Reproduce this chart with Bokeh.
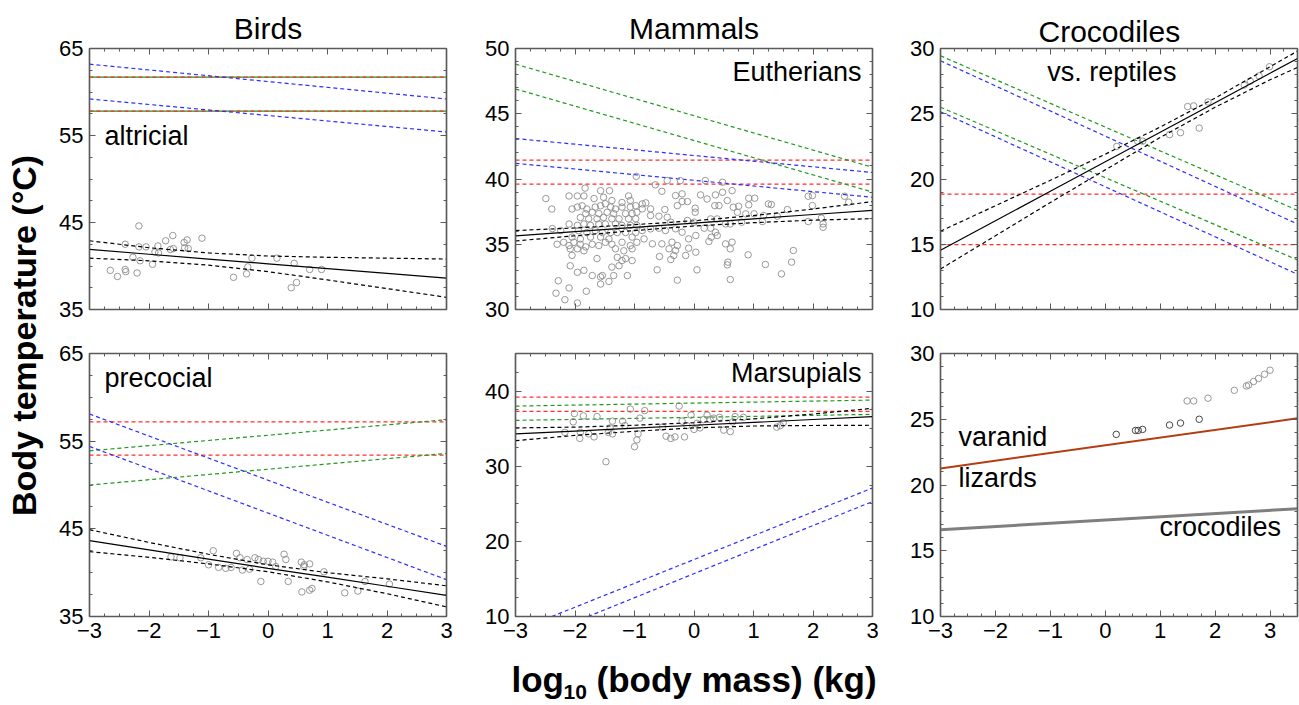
import numpy as np
from bokeh.plotting import figure
from bokeh.layouts import row, column
from bokeh.models import FixedTicker, LinearAxis, CustomJSTickFormatter, Label, Range1d
from bokeh.embed import file_html
from bokeh.resources import INLINE

FONT = "Liberation Sans"
BLUE = "#2e2eff"
GREEN = "#1f9a1f"
RED = "#ff2e2e"
PTS = "#8c8c8c"
FRAME = "#5a5a5a"

# ---------------- data ----------------
XS = [-3, -2, -1, 0, 1, 2, 3]
XE = [-3, 3]
XC = [-3, -2, -1, 0, 1, 2, 3, 3.5]
XCE = [-3, 3.5]

COLUMN_TITLES = ["Birds", "Mammals", "Crocodiles"]

# Birds, altricial
alt_pts = [(-2.65, 39.5), (-2.53, 38.8), (-2.40, 42.5), (-2.40, 39.6), (-2.39, 39.35), (-2.27, 41.0),
           (-2.20, 39.2), (-2.17, 44.6), (-2.17, 42.2), (-2.15, 40.6), (-2.05, 42.2), (-1.94, 40.2),
           (-1.90, 41.6), (-1.85, 42.3), (-1.84, 41.5), (-1.72, 42.9), (-1.64, 41.9), (-1.60, 43.5),
           (-1.59, 42.0), (-1.41, 42.7), (-1.40, 42.1), (-1.36, 43.0), (-1.34, 42.0), (-1.11, 43.2),
           (-0.58, 38.7), (-0.36, 39.1), (-0.34, 39.9), (-0.27, 40.9), (0.15, 40.9), (0.39, 37.5),
           (0.48, 38.1), (0.44, 40.3), (0.70, 39.6), (0.90, 39.6)]
alt_fit = [41.9, 41.35, 40.8, 40.25, 39.7, 39.15, 38.6]
alt_hi = [42.9, 42.1, 41.5, 41.15, 41.0, 40.9, 40.8]
alt_lo = [40.9, 40.6, 40.1, 39.35, 38.4, 37.4, 36.4]
alt_blue = [[63.2, 59.2], [59.2, 55.4]]
alt_green = [[61.7, 61.7], [57.8, 57.8]]
alt_red = [[61.7, 61.7], [57.8, 57.8]]

# Birds, precocial
pre_pts = [(-1.63, 41.8), (-1.48, 41.7), (-1.13, 41.7), (-1.0, 40.9), (-0.92, 42.5), (-0.83, 40.6),
           (-0.71, 40.5), (-0.62, 40.6), (-0.53, 42.2), (-0.47, 41.7), (-0.43, 40.3), (-0.35, 41.5),
           (-0.31, 40.4), (-0.22, 41.7), (-0.16, 41.5), (-0.12, 39.0), (-0.08, 41.3), (0.0, 41.3),
           (0.08, 41.2), (0.13, 40.7), (0.27, 42.1), (0.30, 41.5), (0.34, 39.0), (0.56, 41.2),
           (0.57, 37.8), (0.60, 40.7), (0.61, 40.9), (0.70, 41.0), (0.70, 38.0), (0.74, 38.2),
           (0.94, 40.1), (1.29, 37.7), (1.51, 37.9), (1.63, 39.0), (2.04, 38.7)]
pre_fit = [43.65, 42.6, 41.55, 40.5, 39.5, 38.45, 37.4]
pre_hi = [44.9, 43.45, 42.1, 40.9, 40.0, 39.3, 38.5]
pre_lo = [42.4, 41.75, 41.0, 40.1, 38.95, 37.6, 36.1]
pre_blue = [[58.1, 43.0], [54.4, 39.2]]
pre_green = [[53.9, 57.45], [50.0, 53.6]]
pre_red = [[57.2, 57.2], [53.4, 53.4]]

# Mammals, eutherians
eu_pts = [(-1.83, 39.3), (-1.57, 39.1), (-1.42, 39.1), (-2.49, 38.5), (-2.10, 38.7), (-1.96, 38.7),
          (-1.85, 38.7), (-1.68, 38.5), (-1.52, 38.6), (-1.38, 38.35), (-1.21, 38.2), (-1.10, 38.7),
          (-1.07, 38.35), (-2.39, 37.7), (-2.05, 37.7), (-1.96, 37.85), (-1.88, 37.95), (-1.80, 37.7),
          (-1.66, 37.85), (-1.57, 37.95), (-1.49, 38.1), (-1.40, 37.85), (-1.32, 37.7), (-1.21, 37.85),
          (-1.07, 37.85), (-0.98, 37.95), (-0.96, 37.45), (-1.82, 37.35), (-1.71, 37.45), (-1.60, 37.35),
          (-1.46, 37.45), (-1.35, 37.35), (-1.15, 37.35), (-1.04, 37.35), (-1.91, 37.05), (-1.77, 36.95),
          (-1.63, 36.95), (-1.52, 37.05), (-1.38, 36.95), (-1.26, 36.95), (-1.10, 36.95), (-0.98, 36.95),
          (-2.10, 36.55), (-1.96, 36.45), (-1.85, 36.55), (-1.74, 36.45), (-1.60, 36.55), (-1.49, 36.55),
          (-1.32, 36.55), (-1.21, 36.45), (-1.07, 36.45), (-0.96, 36.45), (-2.38, 36.2), (-2.24, 36.05),
          (-1.94, 36.05), (-1.80, 35.9), (-1.66, 36.05), (-1.54, 35.9), (-1.40, 35.9), (-1.29, 35.9),
          (-1.15, 35.9), (-0.98, 35.9), (-2.05, 35.55), (-1.91, 35.4), (-1.74, 35.55), (-1.57, 35.55),
          (-1.43, 35.4), (-1.04, 35.55), (-2.30, 35.0), (-2.19, 35.15), (-2.10, 34.9), (-2.02, 35.15),
          (-1.91, 35.0), (-1.82, 34.8), (-1.71, 35.0), (-1.60, 34.9), (-1.49, 35.15), (-1.38, 35.0),
          (-1.21, 35.15), (-1.07, 34.9), (-0.96, 35.15), (-2.08, 34.65), (-1.96, 34.65), (-1.85, 34.5),
          (-1.32, 34.65), (-1.18, 34.5), (-1.04, 34.65), (-2.05, 34.15), (-1.63, 33.9), (-1.29, 34.0),
          (-1.21, 33.75), (-1.15, 33.9), (-1.04, 33.75), (-2.08, 33.35), (-1.96, 32.85), (-1.85, 33.0),
          (-1.38, 33.25), (-1.26, 33.35), (-1.71, 32.6), (-1.57, 32.5), (-1.54, 32.6), (-1.35, 32.6),
          (-1.12, 32.6), (-2.28, 32.2), (-1.43, 32.15), (-1.57, 31.95), (-2.10, 31.65), (-2.32, 31.25),
          (-1.81, 31.4), (-2.17, 30.75), (-1.96, 30.5),
          (-0.65, 39.55), (-0.54, 39.06), (-0.45, 39.88), (-0.23, 39.88), (0.19, 39.88), (0.48, 39.75),
          (-0.97, 40.2), (-0.31, 38.73), (-0.20, 38.86), (-0.20, 38.27), (-0.11, 38.27), (-0.28, 37.96),
          (0.11, 38.78), (0.22, 38.47), (0.36, 38.78), (0.48, 38.98), (0.64, 39.11), (0.56, 38.35),
          (0.35, 37.96), (0.42, 37.96), (0.66, 37.84), (0.75, 37.91), (0.92, 38.53), (1.02, 38.53),
          (0.92, 38.02), (-0.87, 38.09), (-0.81, 38.17), (-0.87, 37.71), (-0.73, 37.71), (-0.49, 37.66),
          (0.02, 37.76), (0.02, 37.45), (-0.73, 37.2), (-0.59, 37.15), (-0.45, 37.07), (-0.39, 36.69),
          (-0.11, 36.82), (0.0, 36.69), (0.28, 36.94), (0.39, 36.94), (0.53, 36.56), (0.61, 36.56),
          (0.73, 37.45), (0.87, 37.33), (1.01, 37.33), (0.80, 36.69), (-0.87, 36.05), (-0.73, 36.18),
          (-0.59, 36.23), (-0.48, 36.05), (-0.31, 36.18), (-0.20, 35.92), (0.17, 36.23), (0.28, 36.23),
          (0.36, 35.92), (0.29, 35.54), (0.39, 35.67), (0.25, 35.21), (-0.09, 35.41), (0.03, 35.67),
          (-0.84, 35.41), (-0.70, 35.03), (-0.54, 35.03), (-0.37, 35.16), (-0.28, 34.9), (-0.42, 34.65),
          (-0.31, 34.52), (-0.09, 34.7), (-0.14, 34.14), (0.03, 34.39), (-0.34, 34.14), (0.53, 35.03),
          (0.64, 35.16), (0.61, 34.65), (0.91, 34.19), (-0.58, 34.06), (-0.39, 33.83), (0.57, 33.63),
          (0.56, 33.42), (-0.62, 33.04), (0.05, 33.04), (0.61, 32.3), (-0.28, 32.25),
          (1.25, 38.09), (1.30, 38.04), (1.17, 37.2), (1.15, 36.74), (1.40, 37.15), (1.57, 37.66),
          (1.92, 38.68), (1.99, 38.73), (1.99, 37.96), (1.92, 36.74), (2.14, 37.0), (2.17, 36.56),
          (2.17, 36.3), (2.53, 38.68), (2.60, 38.22), (1.67, 34.52), (1.64, 33.63), (1.20, 33.45),
          (1.47, 32.73)]
eu_fit = [35.64, 35.97, 36.3, 36.62, 36.95, 37.28, 37.6]
eu_hi = [36.05, 36.25, 36.5, 36.8, 37.2, 37.7, 38.27]
eu_lo = [35.25, 35.65, 36.05, 36.4, 36.65, 36.85, 36.96]
eu_green = [[48.8, 40.9], [46.9, 39.0]]
eu_blue = [[43.1, 40.5], [41.2, 38.6]]
eu_red = [[41.45, 41.45], [39.6, 39.6]]

# Mammals, marsupials
ma_pts = [(-2.17, 34.5), (-2.03, 35.9), (-2.01, 37.0), (-1.92, 33.7), (-1.91, 34.5), (-1.86, 36.7),
          (-1.77, 34.3), (-1.68, 33.9), (-1.63, 36.6), (-1.48, 30.6), (-1.44, 34.5), (-1.41, 35.1),
          (-1.37, 36.0), (-1.37, 34.3), (-1.20, 36.0), (-1.16, 35.4), (-1.07, 37.6), (-1.0, 32.6),
          (-0.96, 33.5), (-0.94, 34.3), (-0.91, 36.4), (-0.83, 37.4), (-0.53, 35.2), (-0.47, 34.0),
          (-0.39, 33.7), (-0.32, 33.9), (-0.25, 38.0), (-0.20, 36.0), (-0.16, 33.9), (-0.12, 35.4),
          (-0.05, 36.8), (0.0, 34.9), (0.05, 35.7), (0.10, 35.1), (0.16, 36.2), (0.22, 36.8),
          (0.27, 36.2), (0.33, 36.4), (0.43, 36.5), (0.50, 34.8), (0.61, 34.6), (0.65, 35.9),
          (0.69, 36.6), (0.83, 36.5), (1.39, 35.2), (1.45, 35.4), (1.50, 35.8)]
ma_fit = [34.3, 34.68, 35.07, 35.45, 35.83, 36.22, 36.6]
ma_hi = [35.1, 35.2, 35.45, 35.8, 36.3, 36.95, 37.7]
ma_lo = [33.4, 34.1, 34.65, 35.1, 35.35, 35.42, 35.45]
ma_red = [[39.2, 39.2], [37.3, 37.3]]
ma_green = [[38.0, 38.8], [36.1, 36.9]]
ma_blue_x = [[-2.39, 3], [-1.78, 3]]
ma_blue_y = [[10, 27.1], [10, 25.3]]

# Crocodiles vs. reptiles
cr_pts = [(0.21, 22.5), (0.59, 22.9), (0.68, 22.9), (1.17, 23.4), (1.37, 23.55), (1.71, 23.9),
          (1.50, 25.55), (1.61, 25.6), (1.87, 25.9), (2.53, 27.2), (2.64, 27.5), (2.80, 27.9),
          (2.99, 28.6)]
cr_fit = [14.54, 16.8, 19.06, 21.32, 23.58, 25.85, 28.11, 29.24]
cr_hi = [16.0, 17.95, 19.9, 21.9, 23.98, 26.2, 28.6, 29.8]
cr_lo = [13.1, 15.65, 18.2, 20.7, 23.18, 25.5, 27.6, 28.55]
cr_green = [[29.44, 17.6], [25.5, 13.8]]
cr_blue = [[29.06, 16.55], [25.15, 12.7]]
cr_red = [[18.84, 18.84], [14.97, 14.97]]

# Varanid lizards vs crocodiles
var_pts = [(0.20, 23.85), (0.55, 24.15), (0.60, 24.15), (0.68, 24.23), (1.17, 24.56), (1.37, 24.71),
           (1.71, 25.0)]
croc_pts = [(1.49, 26.39), (1.61, 26.39), (1.87, 26.6), (2.35, 27.2), (2.57, 27.53), (2.61, 27.6),
            (2.70, 27.87), (2.79, 28.1), (2.90, 28.42), (3.0, 28.73)]
var_line = [21.26, 25.07]
croc_line = [16.6, 18.2]

X_TICKS = [-3, -2, -1, 0, 1, 2, 3]


def blank():
    return CustomJSTickFormatter(code="return ''")


def style_axis(ax, ticker, show_labels):
    ax.ticker = ticker
    ax.axis_line_color = FRAME
    ax.axis_line_width = 1.2
    ax.major_tick_in = 6
    ax.major_tick_out = 0
    ax.minor_tick_in = 3
    ax.minor_tick_out = 0
    ax.major_tick_line_color = FRAME
    ax.minor_tick_line_color = FRAME
    ax.major_label_text_font = FONT
    ax.major_label_text_font_size = "22px"
    ax.major_label_text_color = "black"
    if show_labels:
        ax.major_label_standoff = 6
    else:
        ax.formatter = blank()
        ax.major_label_standoff = 0


def xticker(xmax_minor):
    return FixedTicker(ticks=X_TICKS, minor_ticks=list(np.arange(-3, xmax_minor + 0.001, 0.25)))


def yticker(yr, yt, ystep):
    return FixedTicker(ticks=yt, minor_ticks=list(np.arange(yr[0], yr[1] + 0.001, ystep)))


def make_fig(xr, yr, xmax_minor, yt, ystep, fw, fh, bl, br, bt, bb, xlabels, title=None,
             title_standoff=8, title_align="center", title_offset=0):
    p = figure(frame_width=fw, frame_height=fh, x_range=Range1d(*xr), y_range=Range1d(*yr),
               output_backend="svg", toolbar_location=None,
               min_border_left=bl, min_border_right=br, min_border_top=bt, min_border_bottom=bb)
    if title:
        p.title.text = title
        p.title.align = title_align
        p.title.text_font = FONT
        p.title.text_font_size = "30px"
        p.title.text_font_style = "normal"
        p.title.text_color = "black"
        p.title.standoff = title_standoff
        p.title.offset = title_offset
    p.xgrid.visible = False
    p.ygrid.visible = False
    p.outline_line_color = FRAME
    p.outline_line_width = 1.5
    p.border_fill_color = "white"
    style_axis(p.xaxis[0], xticker(xmax_minor), xlabels)
    style_axis(p.yaxis[0], yticker(yr, yt, ystep), True)
    top = LinearAxis()
    style_axis(top, xticker(xmax_minor), False)
    p.add_layout(top, "above")
    right = LinearAxis()
    style_axis(right, yticker(yr, yt, ystep), False)
    p.add_layout(right, "right")
    return p


def dashed(p, xs, ys, color, offset=0):
    p.line(xs, ys, line_color=color, line_width=1.2, line_dash="4 3", line_dash_offset=offset)


def band(p, xs, fit, hi, lo):
    p.line(xs, fit, line_color="black", line_width=1.2)
    dashed(p, xs, hi, "black")
    dashed(p, xs, lo, "black")


def points(p, pts, color=PTS):
    p.scatter([a for a, b in pts], [b for a, b in pts], marker="circle", size=6.5,
              fill_color=None, line_color=color, line_width=0.9)


def txt(p, x, y, s, align="left", size="27px", bold=False, angle=0.0, baseline="alphabetic"):
    p.add_layout(Label(x=x, y=y, text=s, text_font=FONT, text_font_size=size,
                       text_align=align, text_baseline=baseline, text_color="black", angle=angle,
                       text_font_style="bold" if bold else "normal"))


def strip(w, h, x0):
    s = figure(width=w, height=h, x_range=Range1d(x0, x0 + w), y_range=Range1d(0, h),
               output_backend="svg", toolbar_location=None, x_axis_type=None, y_axis_type=None,
               min_border=0)
    s.outline_line_color = None
    s.xgrid.visible = False
    s.ygrid.visible = False
    return s


# ---------------- figures ----------------
FW, FH1, FH2 = 357, 261, 263
T1, B1 = 48, 21         # row 1 borders
T2, B2 = 23, 41         # row 2 borders

f1 = make_fig((-3, 3), (35, 65), 3, [35, 45, 55, 65], 2.5, FW, FH1, 39, 24, T1, B1, False,
              title=COLUMN_TITLES[0], title_standoff=8)
for ys in alt_green:
    f1.line(XE, ys, line_color=GREEN, line_width=1.2)
for ys in alt_red:
    dashed(f1, XE, ys, RED)
for ys in alt_blue:
    dashed(f1, XE, ys, BLUE)
points(f1, alt_pts)
band(f1, XS, alt_fit, alt_hi, alt_lo)
txt(f1, -2.75, 54.95, "altricial")

f4 = make_fig((-3, 3), (35, 65), 3, [35, 45, 55, 65], 2.5, FW, FH2, 39, 24, T2, B2, True)
for ys in pre_red:
    dashed(f4, XE, ys, RED)
for ys in pre_green:
    dashed(f4, XE, ys, GREEN)
for ys in pre_blue:
    dashed(f4, XE, ys, BLUE)
points(f4, pre_pts)
band(f4, XS, pre_fit, pre_hi, pre_lo)
txt(f4, -2.75, 62.15, "precocial")

f2 = make_fig((-3, 3), (30, 50), 3, [30, 35, 40, 45, 50], 1, FW, FH1, 45, 28, T1, B1, False,
              title=COLUMN_TITLES[1], title_standoff=8)
for ys in eu_red:
    dashed(f2, XE, ys, RED)
for ys in eu_green:
    dashed(f2, XE, ys, GREEN)
for ys in eu_blue:
    dashed(f2, XE, ys, BLUE)
points(f2, eu_pts)
band(f2, XS, eu_fit, eu_hi, eu_lo)
txt(f2, 2.815, 48.22, "Eutherians", align="right")

f5 = make_fig((-3, 3), (10, 45), 3, [10, 20, 30, 40], 2.5, FW, FH2, 45, 28, T2, B2, True)
for ys in ma_red:
    dashed(f5, XE, ys, RED)
for ys in ma_green:
    dashed(f5, XE, ys, GREEN)
for xs, ys in zip(ma_blue_x, ma_blue_y):
    dashed(f5, xs, ys, BLUE)
points(f5, ma_pts)
band(f5, XS, ma_fit, ma_hi, ma_lo)
txt(f5, 2.815, 42.45, "Marsupials", align="right")

f3 = make_fig((-3, 3.5), (10, 30), 3.5, [10, 15, 20, 25, 30], 1, FW, FH1, 40, 2, T1, B1, False,
              title=COLUMN_TITLES[2], title_standoff=1, title_align="left", title_offset=98)
for ys in cr_red:
    dashed(f3, XCE, ys, RED)
for ys in cr_green:
    dashed(f3, XCE, ys, GREEN)
for ys in cr_blue:
    dashed(f3, XCE, ys, BLUE)
points(f3, cr_pts)
band(f3, XC, cr_fit, cr_hi, cr_lo)
txt(f3, 0.12, 28.17, "vs. reptiles", align="center")

f6 = make_fig((-3, 3.5), (10, 30), 3.5, [10, 15, 20, 25, 30], 1, FW, FH2, 40, 2, T2, B2, True)
f6.line(XCE, var_line, line_color="#b43c12", line_width=2)
f6.line(XCE, croc_line, line_color="#7f7f7f", line_width=3)
points(f6, croc_pts)
points(f6, var_pts, color="#333333")
txt(f6, -2.67, 23.62, "varanid")
txt(f6, -2.67, 20.56, "lizards")
txt(f6, 3.2, 16.83, "crocodiles", align="right")

# x-axis title strip: log10 (body mass) (kg); x measured in page pixels from the left edge
xlab = strip(1249, 48, 50)
txt(xlab, 511, 26, "log", size="35px", bold=True)
txt(xlab, 563, 14, "10", size="21px", bold=True)
txt(xlab, 596, 26, "(body mass) (kg)", size="35px", bold=True)

# y-axis title strip
ylab = strip(50, 705, 0)
txt(ylab, 23, 370, "Body temperature (°C)", align="center", size="34px", bold=True,
    angle=np.pi / 2, baseline="middle")

grid = column(row(f1, f2, f3), row(f4, f5, f6), xlab)
layout = row(ylab, grid)

open("out.html", "w").write(file_html(layout, INLINE))
